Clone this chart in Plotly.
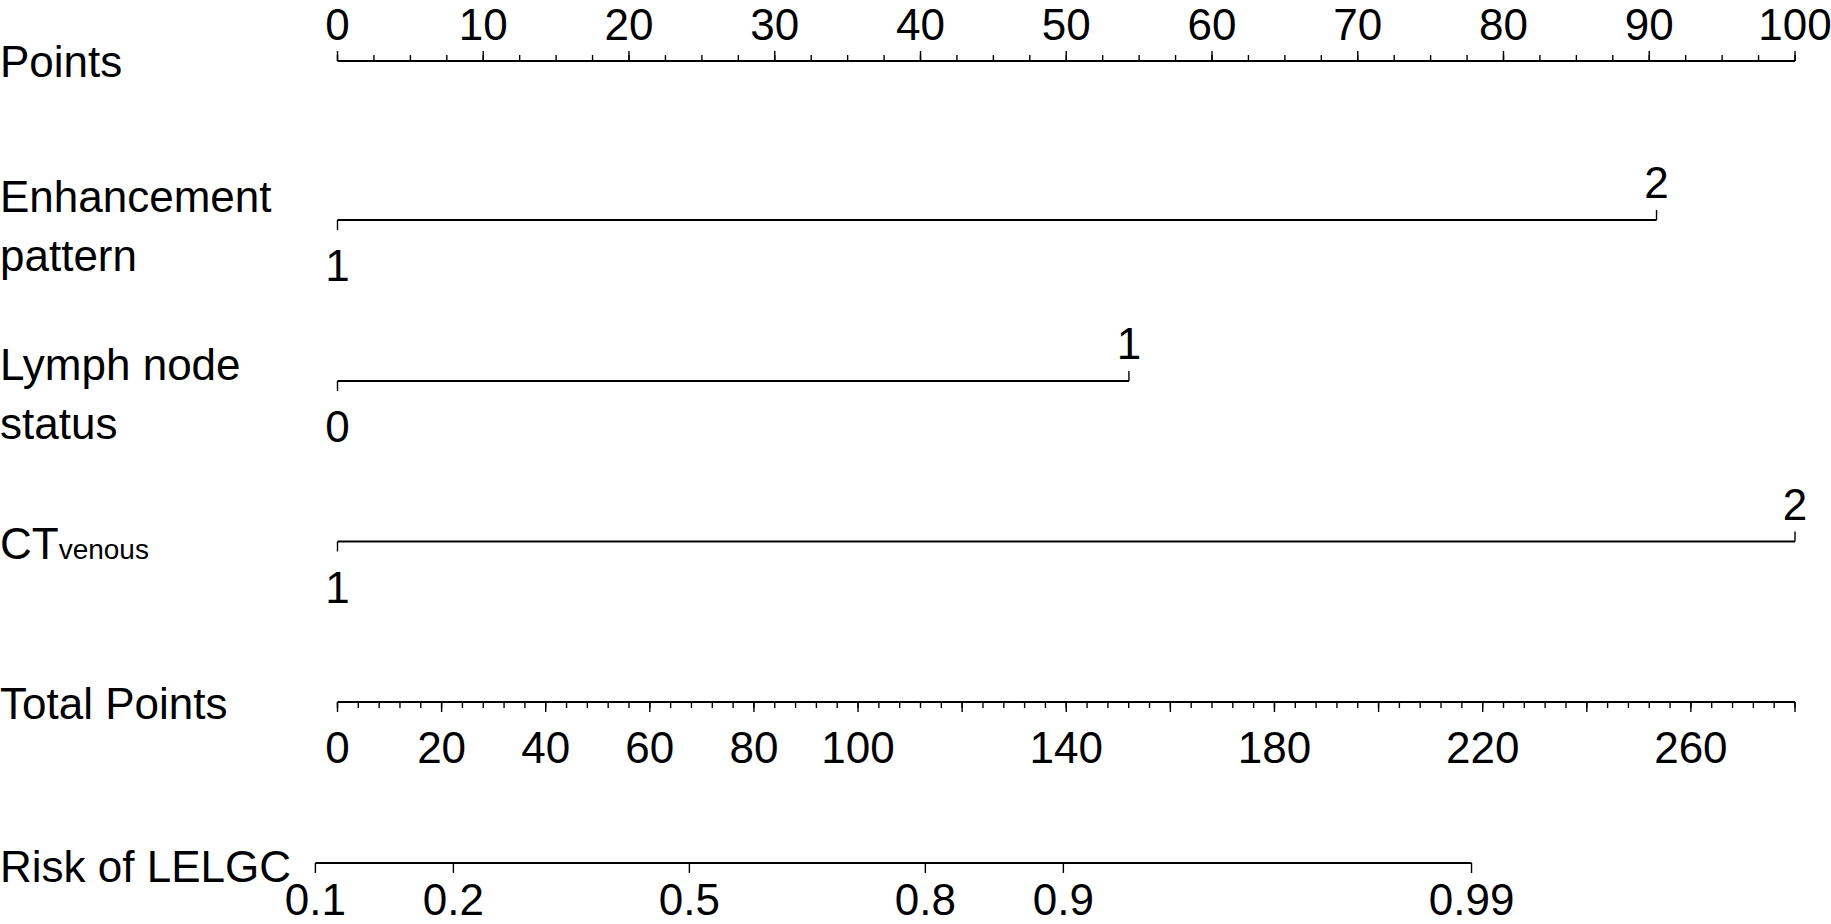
from typing import List, Optional

import numpy as np
import plotly.graph_objects as go  # type: ignore

# ---- data ----
points_labels = [0, 10, 20, 30, 40, 50, 60, 70, 80, 90, 100]
points_minor = [i * 2.5 for i in range(41)]

enh_levels = ["1", "2"]
enh_points = [0, 90.5]
lymph_levels = ["0", "1"]
lymph_points = [0, 54.3]
ct_levels = ["1", "2"]
ct_points = [0, 100]

total_major = list(range(0, 281, 20))
total_minor = list(range(0, 281, 4))
total_labels = [0, 20, 40, 60, 80, 100, 140, 180, 220, 260]
total_max = 280

risk_values = [0.1, 0.2, 0.5, 0.8, 0.9, 0.99]
risk_labels = ["0.1", "0.2", "0.5", "0.8", "0.9", "0.99"]
# total points = intercept + slope * logit(risk)
lp_intercept = 67.6
lp_slope = 32.7

# ---- layout constants (pixels) ----
W, H = 1831, 924
X0_PX, PX_PER_POINT = 337.5, 14.575
FONT = "Liberation Sans, Arial, sans-serif"
FS = 44
ROW_Y = {"points": 61, "enh": 220, "lymph": 381, "ct": 541.5, "total": 702, "risk": 863}
MAJOR, MINOR = 10, 6
ABOVE, BELOW = -40, 43
TXT_DY = 7  # text traces sit a bit high of their anchor


def tp_to_points(tp: List[float]) -> List[float]:
    return [v * 100 / total_max for v in tp]


def risk_to_points(r: List[float]) -> List[float]:
    tp = [lp_intercept + lp_slope * np.log(v / (1 - v)) for v in r]
    return tp_to_points(tp)


def segs(xs: List[float], y0: float, y1: float):
    x: List[Optional[float]] = []
    y: List[Optional[float]] = []
    for v in xs:
        x += [v, v, None]
        y += [y0, y1, None]
    return x, y


def add_lines(fig: go.Figure, x, y, width: float = 1.6) -> None:
    fig.add_trace(go.Scatter(x=x, y=y, mode="lines", line=dict(color="black", width=width),
                             hoverinfo="skip", showlegend=False, cliponaxis=False))


def add_text(fig: go.Figure, xs, y: float, labels) -> None:
    fig.add_trace(go.Scatter(x=list(xs), y=[y + TXT_DY] * len(xs), mode="text",
                             text=[str(t) for t in labels], textposition="middle center",
                             textfont=dict(family=FONT, size=FS, color="black"),
                             hoverinfo="skip", showlegend=False, cliponaxis=False))


def add_axis(fig: go.Figure, major, minor, y: float, sign: int) -> None:
    add_lines(fig, [min(major + minor), max(major + minor)], [y, y], 2)
    x, yy = segs(minor, y, y + sign * MINOR)
    add_lines(fig, x, yy, 1.4)
    x, yy = segs(major, y, y + sign * MAJOR)
    add_lines(fig, x, yy, 1.4)


def add_variable(fig: go.Figure, pts, levels, y: float) -> None:
    add_lines(fig, [pts[0], pts[-1]], [y, y], 1.8)
    # first level: tick down, label below; second: tick up, label above
    add_lines(fig, [pts[0], pts[0], None, pts[1], pts[1]], [y, y + MAJOR, None, y, y - MAJOR], 1.4)
    add_text(fig, [pts[0]], y + BELOW, [levels[0]])
    add_text(fig, [pts[1]], y + ABOVE, [levels[1]])


fig = go.Figure()

# Points
add_axis(fig, points_labels, points_minor, ROW_Y["points"], -1)
add_text(fig, points_labels, ROW_Y["points"] - 39.5, points_labels)

add_variable(fig, enh_points, enh_levels, ROW_Y["enh"])
add_variable(fig, lymph_points, lymph_levels, ROW_Y["lymph"])
add_variable(fig, ct_points, ct_levels, ROW_Y["ct"])

# Total points
add_axis(fig, tp_to_points(total_major), tp_to_points(total_minor), ROW_Y["total"], 1)
add_text(fig, tp_to_points(total_labels), ROW_Y["total"] + BELOW, total_labels)

# Risk
risk_x = risk_to_points(risk_values)
add_axis(fig, risk_x, [], ROW_Y["risk"], 1)
add_text(fig, risk_x, ROW_Y["risk"] + 34, risk_labels)

left_labels = [
    ("Points", 61), ("Enhancement", 196), ("pattern", 255),
    ("Lymph node", 364), ("status", 423),
    ("CT<span style='font-size:28px'>venous</span>", 543),
    ("Total Points", 703), ("Risk of LELGC", 866),
]
for txt, yy in left_labels:
    fig.add_annotation(x=0, xref="paper", y=yy, yref="y", text=txt, showarrow=False,
                       xanchor="left", yanchor="middle", xshift=-2,
                       font=dict(family=FONT, size=FS, color="black"))

fig.update_layout(
    width=W, height=H,
    margin=dict(l=0, r=0, t=0, b=0),
    paper_bgcolor="white", plot_bgcolor="white",
    xaxis=dict(range=[-X0_PX / PX_PER_POINT, (W - X0_PX) / PX_PER_POINT], visible=False, fixedrange=True),
    yaxis=dict(range=[H, 0], visible=False, fixedrange=True),
)
# drop the browser's default body margin so the figure fills the window
fig.write_html("out.html", config={"displayModeBar": False},
               post_script="document.body.style.margin='0';")
